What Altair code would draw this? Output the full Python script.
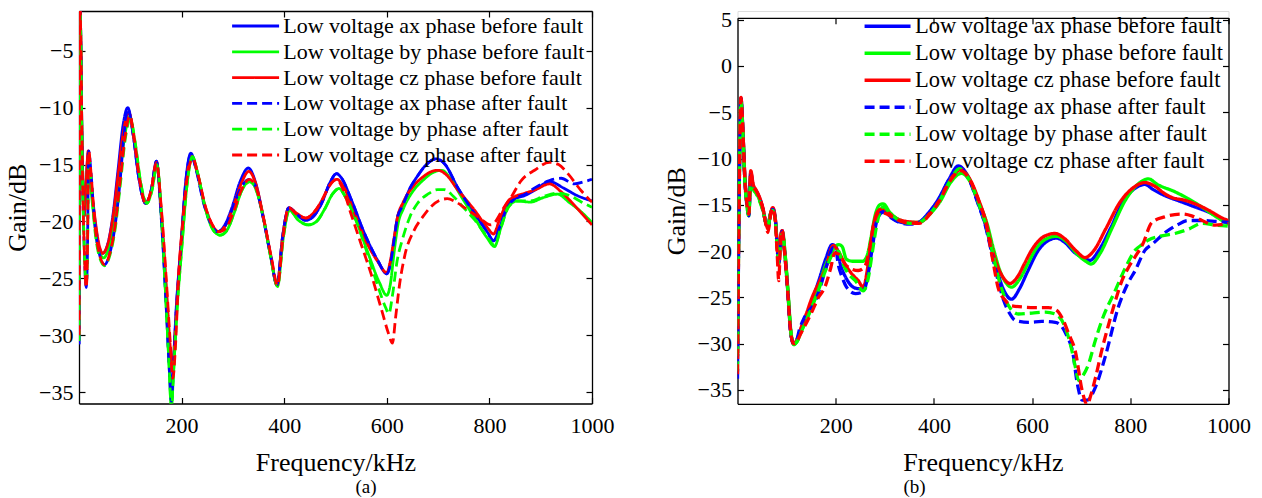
import altair as alt
import pandas as pd

FONT = "Liberation Serif"

SERIES = [
    "Low voltage ax phase before fault",
    "Low voltage by phase before fault",
    "Low voltage cz phase before fault",
    "Low voltage ax phase after fault",
    "Low voltage by phase after fault",
    "Low voltage cz phase after fault",
]
COLORS = ["#0000ff", "#00ff00", "#ff0000", "#0000ff", "#00ff00", "#ff0000"]
DASHES = [[1, 0], [1, 0], [1, 0], [10, 5], [10, 5], [10, 5]]

X_TICKS = [200, 400, 600, 800, 1000]
A_Y_TICKS = [-35, -30, -25, -20, -15, -10, -5]
B_Y_TICKS = [-35, -30, -25, -20, -15, -10, -5, 0, 5]

# ---------------- panel (a): (frequency kHz, gain dB) ----------------
A_AX_BEFORE = [(0,-30.8),(2,-1.0),(6,-13.0),(10,-19.5),(14,-16.5),(18,-14.0),(23,-16.5),(30,-19.5),(38,-22.0),(46,-22.8),(56,-22.0),(66,-19.5),(76,-15.5),(86,-11.5),(95,-10.0),(106,-12.5),(116,-16.0),(130,-18.4),(141,-17.2),(151,-14.7),(160,-19.3),(170,-27.0),(176,-32.5),(180,-35.0),(184,-32.5),(189,-28.0),(199,-22.0),(208,-16.5),(218,-14.0),(228,-15.3),(243,-18.3),(258,-20.2),(270,-20.9),(283,-20.4),(298,-18.8),(314,-16.5),(330,-15.3),(343,-16.4),(358,-19.4),(373,-22.9),(386,-25.6),(397,-21.3),(409,-18.8),(425,-19.4),(442,-19.9),(458,-19.5),(474,-18.3),(489,-16.6),(502,-15.8),(512,-16.2),(530,-18.0),(556,-21.0),(582,-23.4),(600,-24.6),(608,-23.5),(614,-21.7),(621,-19.6),(630,-18.7),(645,-17.1),(660,-16.0),(675,-15.1),(696,-14.5),(712,-14.9),(738,-17.0),(771,-19.3),(797,-21.0),(808,-21.7),(820,-20.5),(835,-18.5),(850,-18.0),(870,-17.7),(890,-17.2),(917,-16.5),(946,-17.1),(970,-17.7),(1000,-18.2)]
A_BY_BEFORE = [(0,-30.5),(2,-1.0),(6,-13.0),(10,-19.5),(14,-16.8),(18,-14.5),(23,-17.0),(30,-20.0),(38,-22.5),(48,-23.2),(58,-22.3),(68,-20.0),(78,-16.5),(88,-12.8),(99,-10.8),(109,-13.0),(119,-16.3),(132,-18.4),(142,-17.3),(152,-15.0),(161,-19.8),(170,-27.5),(176,-33.0),(180,-36.5),(184,-33.5),(190,-28.5),(200,-22.5),(210,-17.0),(221,-14.3),(231,-15.7),(246,-18.8),(261,-20.7),(275,-21.2),(288,-20.8),(302,-19.3),(317,-17.3),(333,-16.5),(346,-17.3),(360,-19.8),(374,-23.2),(387,-25.7),(398,-21.5),(410,-19.0),(428,-19.9),(447,-20.3),(463,-20.0),(479,-18.9),(494,-17.6),(507,-17.1),(520,-17.9),(540,-19.9),(562,-22.6),(585,-25.3),(600,-26.5),(607,-25.5),(614,-22.8),(622,-20.2),(632,-18.9),(650,-17.4),(670,-16.4),(690,-15.7),(707,-15.5),(725,-16.3),(745,-17.8),(770,-19.6),(795,-21.4),(810,-22.2),(822,-20.6),(838,-18.6),(855,-18.2),(880,-18.3),(905,-17.9),(933,-17.6),(955,-18.3),(980,-19.2),(1000,-20.1)]
A_CZ_BEFORE = [(0,-30.0),(2,-1.0),(6,-13.0),(10,-19.5),(14,-16.5),(18,-13.8),(23,-16.3),(30,-19.3),(38,-21.8),(46,-22.8),(56,-22.0),(66,-19.7),(76,-16.0),(86,-12.3),(97,-10.4),(107,-12.7),(117,-16.0),(130,-18.4),(141,-17.2),(151,-14.8),(160,-18.8),(170,-25.5),(177,-30.5),(182,-33.0),(187,-30.0),(193,-25.5),(202,-20.0),(211,-15.8),(220,-14.3),(230,-15.6),(245,-18.5),(260,-20.3),(272,-20.9),(285,-20.4),(300,-18.8),(316,-16.7),(331,-15.6),(344,-16.6),(359,-19.5),(374,-23.0),(386,-25.6),(397,-21.3),(409,-18.8),(425,-19.3),(442,-19.7),(458,-19.2),(474,-18.1),(489,-16.8),(503,-16.3),(515,-16.9),(535,-19.0),(558,-21.6),(582,-23.5),(600,-24.5),(608,-23.2),(614,-21.5),(621,-19.6),(632,-18.3),(650,-17.0),(670,-16.1),(688,-15.6),(700,-15.5),(716,-15.9),(738,-17.2),(771,-19.0),(797,-20.6),(808,-21.1),(820,-19.8),(835,-18.3),(850,-17.8),(870,-17.5),(890,-17.2),(917,-16.7),(940,-17.4),(960,-18.3),(980,-19.3),(1000,-20.3)]
A_AX_AFTER = [(0,-30.8),(2,-1.0),(6,-14.0),(10,-22.0),(14,-25.8),(16,-24.0),(19,-13.8),(23,-15.5),(30,-19.8),(38,-22.5),(50,-23.8),(60,-22.8),(70,-20.5),(80,-16.5),(88,-12.3),(95,-10.1),(106,-12.5),(116,-16.0),(130,-18.4),(141,-17.2),(151,-14.7),(160,-19.5),(170,-27.5),(176,-33.0),(180,-35.8),(184,-33.0),(189,-28.3),(199,-22.2),(208,-16.6),(218,-14.1),(228,-15.4),(243,-18.4),(258,-20.3),(270,-20.9),(283,-20.5),(298,-19.0),(314,-17.2),(331,-16.3),(344,-16.9),(359,-19.7),(374,-23.1),(386,-25.6),(397,-21.3),(409,-18.8),(425,-19.4),(442,-19.9),(458,-19.5),(474,-18.3),(489,-16.6),(502,-15.8),(512,-16.2),(530,-18.0),(556,-21.0),(582,-23.4),(600,-24.6),(608,-23.5),(614,-21.7),(621,-19.6),(630,-18.7),(645,-17.1),(660,-16.0),(675,-15.1),(696,-14.5),(712,-14.9),(738,-17.0),(771,-19.3),(797,-21.0),(808,-21.7),(820,-20.5),(835,-18.7),(850,-18.0),(870,-17.6),(890,-17.0),(917,-16.4),(940,-16.2),(965,-16.7),(985,-16.5),(1000,-16.3)]
A_BY_AFTER = [(0,-30.5),(2,-1.0),(6,-14.0),(10,-22.0),(14,-25.5),(16,-24.0),(19,-14.5),(23,-16.0),(30,-20.3),(38,-22.8),(50,-23.9),(60,-23.0),(70,-20.8),(80,-17.0),(90,-12.8),(100,-11.0),(110,-13.2),(120,-16.5),(132,-18.4),(142,-17.3),(152,-15.0),(161,-19.8),(170,-27.5),(176,-33.0),(180,-36.5),(184,-33.5),(190,-28.5),(200,-22.5),(210,-17.0),(221,-14.3),(231,-15.7),(246,-18.8),(261,-20.7),(275,-21.2),(288,-20.8),(302,-19.3),(317,-17.3),(333,-16.5),(346,-17.3),(360,-19.8),(374,-23.2),(387,-25.7),(398,-21.5),(410,-19.0),(428,-19.9),(447,-20.3),(463,-20.0),(479,-18.9),(494,-17.6),(507,-17.1),(520,-17.9),(540,-19.9),(562,-22.8),(585,-26.0),(598,-27.6),(604,-28.1),(611,-26.5),(620,-23.5),(631,-21.5),(645,-19.6),(660,-18.4),(680,-17.6),(699,-17.2),(712,-17.2),(730,-17.8),(750,-18.8),(770,-19.8),(795,-21.3),(810,-22.1),(822,-20.6),(838,-18.7),(855,-18.2),(880,-18.2),(905,-17.8),(933,-17.5),(955,-17.7),(980,-18.3),(1000,-18.75)]
A_CZ_AFTER = [(0,-30.0),(2,-1.0),(6,-14.0),(10,-22.0),(14,-25.8),(16,-24.0),(19,-13.8),(23,-15.5),(30,-19.8),(38,-22.5),(50,-23.8),(60,-22.8),(70,-20.5),(80,-16.5),(90,-12.5),(99,-10.7),(108,-12.8),(118,-16.3),(130,-18.4),(141,-17.2),(151,-14.8),(160,-18.6),(170,-25.0),(177,-30.0),(183,-33.8),(188,-31.0),(194,-25.0),(203,-19.8),(212,-15.8),(222,-14.5),(232,-15.9),(247,-18.8),(261,-20.4),(273,-20.9),(286,-20.6),(301,-19.2),(316,-17.3),(332,-16.3),(345,-17.0),(360,-19.8),(375,-23.2),(387,-25.6),(398,-21.3),(409,-18.8),(425,-19.4),(442,-19.7),(458,-19.2),(474,-18.1),(489,-16.8),(502,-16.3),(513,-17.0),(530,-19.3),(550,-22.0),(570,-24.7),(590,-27.8),(603,-29.8),(611,-30.7),(617,-28.5),(625,-25.5),(635,-23.0),(653,-20.8),(670,-19.6),(686,-18.7),(705,-18.1),(718,-18.0),(735,-18.3),(752,-18.8),(778,-19.6),(803,-20.3),(812,-20.0),(825,-19.0),(842,-17.9),(862,-16.4),(888,-15.5),(917,-14.8),(935,-15.0),(953,-15.8),(979,-17.3),(1000,-18.3)]

# ---------------- panel (b): (frequency kHz, gain dB) ----------------
B_AX_BEFORE = [(0,-31.0),(3,-15.0),(7,-3.5),(11,-7.0),(15,-12.0),(19,-14.5),(23,-16.0),(27,-11.5),(32,-13.0),(38,-13.5),(45,-14.3),(52,-15.5),(58,-17.0),(62,-17.3),(67,-16.0),(72,-15.4),(77,-16.5),(81,-19.5),(84,-21.0),(88,-18.5),(91,-17.8),(96,-20.0),(102,-24.0),(108,-28.5),(114,-30.0),(120,-29.7),(130,-28.3),(140,-27.0),(152,-25.3),(165,-23.3),(180,-20.8),(193,-19.3),(201,-19.6),(210,-21.5),(222,-23.0),(240,-24.0),(256,-24.1),(265,-22.5),(273,-19.6),(282,-16.5),(290,-15.6),(298,-15.6),(310,-16.2),(328,-16.8),(350,-17.0),(368,-16.9),(390,-15.8),(409,-14.4),(430,-12.3),(450,-10.8),(470,-12.0),(490,-14.8),(504,-17.0),(518,-19.9),(531,-22.5),(545,-24.5),(558,-25.2),(575,-24.0),(590,-22.3),(613,-19.9),(632,-18.9),(650,-18.6),(665,-19.0),(690,-20.3),(708,-20.8),(718,-21.0),(735,-20.0),(760,-17.5),(785,-14.7),(810,-13.2),(830,-12.8),(845,-13.3),(870,-14.0),(900,-14.6),(930,-15.2),(960,-15.8),(986,-16.5),(1000,-16.9)]
B_BY_BEFORE = [(0,-31.0),(3,-15.0),(7,-3.8),(11,-7.3),(15,-12.3),(19,-14.8),(23,-16.2),(27,-12.0),(32,-13.2),(38,-13.7),(45,-14.5),(52,-15.6),(58,-17.0),(62,-17.3),(67,-16.0),(72,-15.5),(77,-16.6),(81,-19.5),(84,-21.0),(88,-18.7),(92,-18.0),(97,-20.3),(103,-24.5),(109,-28.8),(115,-30.1),(121,-29.8),(131,-28.5),(141,-27.3),(153,-25.7),(166,-23.7),(181,-21.3),(196,-19.8),(206,-19.3),(213,-19.5),(222,-20.9),(235,-21.1),(255,-21.1),(264,-20.5),(272,-18.5),(281,-16.0),(290,-15.0),(297,-14.9),(310,-15.8),(328,-16.6),(350,-16.9),(370,-16.9),(392,-16.0),(412,-14.7),(434,-12.6),(456,-11.6),(475,-12.6),(494,-15.0),(508,-17.0),(522,-19.9),(535,-22.2),(548,-23.5),(558,-23.9),(575,-23.0),(592,-21.3),(606,-19.9),(628,-18.7),(650,-18.4),(668,-18.9),(693,-20.4),(712,-21.2),(720,-21.4),(738,-20.3),(763,-17.5),(790,-14.5),(815,-12.8),(837,-12.2),(855,-12.8),(891,-13.6),(920,-14.4),(950,-15.4),(975,-16.3),(1000,-17.1)]
B_CZ_BEFORE = [(0,-31.0),(3,-15.0),(7,-3.4),(11,-7.0),(15,-12.0),(19,-14.5),(23,-15.8),(27,-11.3),(32,-12.8),(38,-13.4),(45,-14.2),(52,-15.4),(58,-17.0),(62,-17.6),(67,-16.0),(72,-15.3),(77,-16.5),(81,-19.5),(84,-21.5),(88,-18.3),(91,-17.8),(96,-20.0),(102,-24.0),(108,-28.5),(114,-30.0),(120,-29.7),(130,-28.2),(140,-26.8),(152,-25.0),(165,-23.5),(180,-21.8),(195,-19.4),(205,-20.0),(219,-21.4),(235,-22.6),(246,-23.2),(256,-23.9),(266,-21.5),(276,-17.5),(286,-15.7),(297,-15.4),(310,-16.0),(335,-16.7),(370,-16.9),(392,-15.9),(411,-14.5),(432,-12.4),(455,-11.2),(474,-12.3),(492,-14.6),(506,-16.8),(518,-19.6),(531,-21.8),(543,-23.0),(555,-23.5),(570,-22.8),(585,-21.3),(599,-19.9),(625,-18.4),(647,-18.1),(665,-18.6),(690,-20.0),(708,-20.7),(725,-20.0),(750,-17.6),(778,-14.8),(805,-13.2),(830,-12.6),(850,-13.0),(870,-13.8),(884,-14.2),(910,-14.5),(932,-14.9),(960,-15.6),(986,-16.4),(1000,-16.7)]
B_AX_AFTER = [(0,-33.8),(3,-16.0),(7,-3.6),(11,-7.2),(15,-12.5),(19,-15.0),(23,-16.2),(27,-11.8),(32,-13.2),(38,-13.6),(45,-14.4),(52,-15.6),(58,-17.0),(62,-17.4),(67,-16.0),(72,-15.5),(77,-16.6),(81,-19.8),(84,-21.5),(88,-18.6),(91,-17.9),(96,-20.2),(102,-24.2),(108,-28.7),(114,-30.0),(120,-29.7),(126,-28.5),(135,-27.3),(145,-26.5),(155,-25.8),(168,-24.0),(182,-21.5),(195,-19.6),(200,-19.7),(205,-21.4),(213,-22.8),(222,-23.9),(240,-24.6),(256,-24.4),(266,-22.5),(275,-19.5),(285,-16.5),(297,-15.8),(310,-16.3),(330,-16.9),(352,-17.1),(370,-16.9),(390,-15.9),(409,-14.5),(430,-12.4),(450,-10.9),(470,-12.1),(490,-14.9),(504,-17.1),(516,-19.8),(528,-22.6),(542,-25.3),(555,-26.8),(566,-27.5),(593,-27.7),(620,-27.6),(647,-27.7),(661,-28.2),(672,-29.3),(682,-30.7),(692,-34.3),(702,-36.1),(712,-36.1),(729,-34.7),(749,-31.4),(776,-26.0),(795,-23.5),(810,-22.1),(830,-19.9),(846,-19.2),(871,-18.0),(895,-17.2),(918,-16.7),(946,-16.7),(975,-16.8),(1000,-16.9)]
B_BY_AFTER = [(0,-33.0),(3,-16.0),(7,-3.8),(11,-7.3),(15,-12.5),(19,-15.0),(23,-16.2),(27,-12.0),(32,-13.3),(38,-13.8),(45,-14.6),(52,-15.7),(58,-17.0),(62,-17.4),(67,-16.0),(72,-15.6),(77,-16.7),(81,-19.8),(84,-21.3),(88,-18.8),(92,-18.1),(97,-20.4),(103,-24.6),(109,-28.9),(115,-30.1),(121,-29.8),(130,-28.7),(140,-27.5),(152,-26.0),(165,-24.2),(180,-22.0),(196,-20.2),(206,-20.0),(212,-21.0),(225,-22.4),(240,-23.2),(256,-24.3),(266,-23.0),(275,-20.0),(285,-16.8),(297,-15.2),(310,-15.9),(330,-16.7),(352,-17.0),(370,-16.9),(391,-16.0),(411,-14.6),(432,-12.5),(452,-11.1),(472,-12.3),(492,-15.0),(506,-17.2),(518,-19.8),(531,-22.8),(542,-24.7),(552,-25.9),(572,-26.8),(600,-26.7),(627,-26.6),(647,-26.8),(667,-28.2),(680,-30.5),(688,-32.5),(695,-34.0),(703,-33.5),(715,-32.2),(728,-29.8),(742,-27.5),(769,-24.3),(790,-21.8),(810,-19.9),(824,-19.3),(837,-18.8),(860,-18.4),(891,-18.1),(920,-17.6),(946,-17.0),(975,-17.2),(1000,-17.3)]
B_CZ_AFTER = [(0,-33.3),(3,-16.0),(7,-3.5),(11,-7.0),(15,-12.3),(19,-14.8),(23,-16.0),(27,-11.5),(32,-13.0),(38,-13.5),(45,-14.3),(52,-15.5),(58,-17.2),(62,-18.0),(67,-16.2),(72,-15.4),(77,-16.8),(81,-20.5),(84,-23.2),(88,-18.5),(91,-17.8),(96,-20.2),(102,-24.2),(108,-28.6),(114,-30.0),(120,-29.8),(130,-28.8),(140,-27.8),(152,-26.5),(165,-25.0),(178,-23.9),(190,-21.8),(198,-20.2),(205,-20.3),(222,-21.6),(246,-22.1),(259,-21.7),(268,-20.0),(278,-17.0),(290,-15.8),(300,-15.9),(315,-16.3),(340,-16.9),(370,-17.0),(392,-16.0),(411,-14.6),(432,-12.5),(455,-11.3),(474,-12.4),(492,-14.7),(506,-17.0),(520,-21.0),(531,-24.0),(545,-25.3),(558,-25.9),(605,-26.1),(633,-26.1),(650,-26.4),(661,-27.2),(675,-29.0),(688,-30.8),(702,-35.1),(712,-36.6),(720,-35.5),(729,-33.7),(742,-30.7),(756,-27.9),(770,-25.3),(783,-23.2),(796,-21.8),(810,-20.6),(825,-19.3),(844,-16.9),(870,-16.3),(905,-16.0),(925,-16.2),(946,-16.7),(973,-17.2),(1000,-17.0)]

A_CURVES = [A_AX_BEFORE, A_BY_BEFORE, A_CZ_BEFORE, A_AX_AFTER, A_BY_AFTER, A_CZ_AFTER]
B_CURVES = [B_AX_BEFORE, B_BY_BEFORE, B_CZ_BEFORE, B_AX_AFTER, B_BY_AFTER, B_CZ_AFTER]


def to_frame(curves):
    rows = []
    for name, pts in zip(SERIES, curves):
        for f, g in pts:
            rows.append({"series": name, "freq": f, "gain": g})
    return pd.DataFrame(rows)


def panel(df, W, H, top, ydom, yticks, widths, leg_x, leg_y, leg_font, row_pad,
          sym_size, lab_off, caption, cap_x, cap_y):
    xs = alt.Scale(domain=[0, 1000], nice=False, zero=False)
    ys = alt.Scale(domain=ydom, nice=False, zero=False, range=[H, top])
    lab = dict(labelFont=FONT, labelFontSize=22, labelColor="black", format="d",
               labelFlush=False, labelOverlap=False, grid=False)
    ttl = dict(titleFont=FONT, titleFontSize=26, titleFontWeight="normal",
               titleColor="black")
    x_main = alt.Axis(orient="bottom", values=X_TICKS, title="Frequency/kHz",
                      titlePadding=12.5, labelPadding=12, ticks=False, tickSize=0,
                      domainColor="black", domainWidth=1.3, **lab, **ttl)
    y_main = alt.Axis(orient="left", values=yticks, title="Gain/dB",
                      titlePadding=8, labelPadding=6, ticks=False, tickSize=0,
                      domainColor="black", domainWidth=1.3, **lab, **ttl)
    tk = dict(labels=False, title=None, grid=False, tickColor="black",
              tickSize=6, tickWidth=1.2, minExtent=0)
    x_in_bottom = alt.Axis(orient="top", offset=-H, values=X_TICKS, domain=False, **tk)
    y_in_left = alt.Axis(orient="right", offset=-W, values=yticks, domain=False, **tk)
    x_top = alt.Axis(orient="bottom", offset=-(H - top), values=X_TICKS, domain=True,
                     domainColor="black", domainWidth=1.3, **tk)
    y_right = alt.Axis(orient="left", offset=-W, values=yticks, domain=True,
                       domainColor="black", domainWidth=1.3, **tk)

    leg = alt.Legend(title=None, orient="none", legendX=leg_x, legendY=leg_y,
                     symbolType="M-4,0H4", symbolSize=sym_size,
                     labelFont=FONT, labelFontSize=leg_font, labelColor="black",
                     labelLimit=0, labelOffset=lab_off, rowPadding=row_pad,
                     padding=0, symbolOffset=0)

    lines = alt.Chart(df).mark_line(clip=True, interpolate="monotone").encode(
        x=alt.X("freq:Q", scale=xs, axis=x_main),
        y=alt.Y("gain:Q", scale=ys, axis=y_main),
        color=alt.Color("series:N", scale=alt.Scale(domain=SERIES, range=COLORS), legend=leg),
        strokeDash=alt.StrokeDash("series:N", scale=alt.Scale(domain=SERIES, range=DASHES), legend=leg),
        strokeWidth=alt.StrokeWidth("series:N", scale=alt.Scale(domain=SERIES, range=widths), legend=leg),
    )
    ticks_a = alt.Chart(df).mark_line(opacity=0, clip=True).encode(
        x=alt.X("freq:Q", scale=xs, axis=x_in_bottom),
        y=alt.Y("gain:Q", scale=ys, axis=y_in_left),
    )
    ticks_b = alt.Chart(df).mark_line(opacity=0, clip=True).encode(
        x=alt.X("freq:Q", scale=xs, axis=x_top),
        y=alt.Y("gain:Q", scale=ys, axis=y_right),
    )
    cap = alt.Chart(pd.DataFrame({"t": [caption]})).mark_text(
        font=FONT, fontSize=19, color="black", align="center", baseline="middle"
    ).encode(text="t:N", x=alt.value(cap_x), y=alt.value(cap_y))

    return alt.layer(lines, ticks_a, ticks_b, cap).resolve_axis(
        x="independent", y="independent"
    ).properties(width=W, height=H)


left = panel(to_frame(A_CURVES), 513, 392.5, 0, [-36, -1.5], A_Y_TICKS,
             [2.8, 2.8, 2.8, 2.8, 2.8, 2.8], 165.6, 4.0, 22, 3.8, 138, 16.6,
             "(a)", 287, 476)
right = panel(to_frame(B_CURVES), 491, 392.8, 6.8, [-36.5, 5.2], B_Y_TICKS,
              [3.3, 3.3, 3.3, 2.2, 2.2, 2.2], 138.8, 4.0, 22.5, 4.0, 132, 16.2,
              "(b)", 177, 476)

chart = alt.hconcat(left, right, spacing=47.5).resolve_scale(
    x="independent", y="independent", color="independent",
    strokeDash="independent", strokeWidth="independent"
).properties(
    padding={"left": 4, "top": 8, "right": 0, "bottom": 0}
).configure_view(stroke=None).configure(font=FONT)

chart.save("out.html", embed_options={"renderer": "svg", "actions": False})
